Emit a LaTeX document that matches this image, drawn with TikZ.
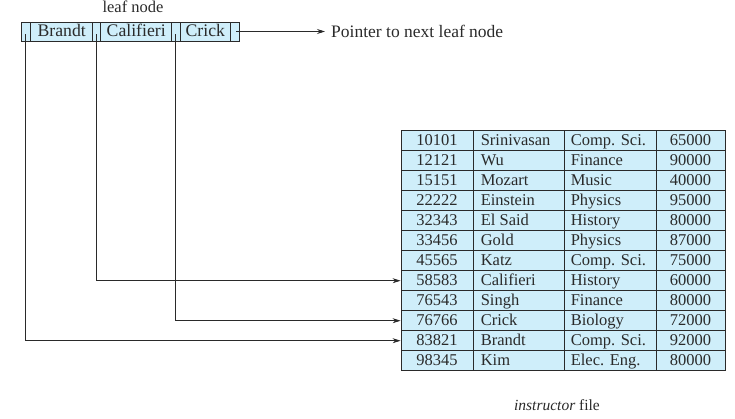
\documentclass[tikz,border=0pt]{standalone}
\usepackage{fontspec}
\setmainfont{Liberation Serif}
\usetikzlibrary{arrows.meta}
\definecolor{cellfill}{HTML}{CFEEFA}
\definecolor{ink}{HTML}{2A2A2A}
\begin{document}
\begin{tikzpicture}[x=1pt,y=-1pt,
  cellbox/.style={draw=ink,fill=cellfill,line width=0.8pt,inner sep=0pt,minimum height=#1},
  cellbox/.default=20,
  txt/.style={inner sep=0pt,font=\fontsize{16.5}{18}\selectfont,text=ink,text height=11,text depth=1},
  keytxt/.style={txt,font=\fontsize{17.7}{20}\selectfont,text height=12,text depth=2},
  lbl/.style={inner sep=0pt,text=ink},
  link/.style={draw=ink,line width=0.8pt,-{Stealth[length=8pt,width=5pt]}}]
\useasboundingbox (0,0) rectangle (735,418);
% leaf node
\node[lbl,font=\fontsize{16.5}{18}\selectfont] (title) at (133,7) {leaf node};
\node[cellbox=18.7,minimum width=9] (l0) at (26.2,31.7) {};
\node[cellbox=18.7,minimum width=62] (k1) at (61.7,31.7) {};
\node[cellbox=18.7,minimum width=8] (l1) at (96.7,31.7) {};
\node[cellbox=18.7,minimum width=71] (k2) at (136.2,31.7) {};
\node[cellbox=18.7,minimum width=8.3] (l2) at (175.85,31.7) {};
\node[cellbox=18.7,minimum width=50.7] (k3) at (205.35,31.7) {};
\node[cellbox=18.7,minimum width=8.6] (l3) at (235,31.7) {};
\node[keytxt] at (k1) {Brandt};
\node[keytxt] at (k2) {Califieri};
\node[keytxt] at (k3) {Crick};
\coordinate (p0) at (25.7,34);
\coordinate (p1) at (96.7,34);
\coordinate (p2) at (175,34);
\coordinate (p3) at (236,31.5);
\node[lbl,anchor=west,inner xsep=6pt,font=\fontsize{17.5}{19}\selectfont] (next) at (325,31.5) {Pointer to next leaf node};
% table
\foreach \i/\id/\nm/\dept/\sal in {
  1/10101/Srinivasan/Comp. Sci./65000,
  2/12121/Wu/Finance/90000,
  3/15151/Mozart/Music/40000,
  4/22222/Einstein/Physics/95000,
  5/32343/El Said/History/80000,
  6/33456/Gold/Physics/87000,
  7/45565/Katz/Comp. Sci./75000,
  8/58583/Califieri/History/60000,
  9/76543/Singh/Finance/80000,
  10/76766/Crick/Biology/72000,
  11/83821/Brandt/Comp. Sci./92000,
  12/98345/Kim/Elec. Eng./80000}{
  \pgfmathsetmacro{\yy}{120.7+20*\i}
  \node[cellbox,minimum width=72] (r\i c1) at (437,\yy) {};
  \node[cellbox,minimum width=91] (r\i c2) at (518.5,\yy) {};
  \node[cellbox,minimum width=92] (r\i c3) at (610,\yy) {};
  \node[cellbox,minimum width=69] (r\i c4) at (690.5,\yy) {};
  \node[txt] at (r\i c1) {\id};
  \node[txt,anchor=west] at ([xshift=8pt]r\i c2.west) {\nm};
  \node[txt,anchor=west] at ([xshift=7pt]r\i c3.west) {\dept};
  \node[txt] at (r\i c4) {\sal};
}
\node[lbl,font=\fontsize{15.5}{17}\selectfont] (cap) at (557,405) {\textit{instructor} file};
% pointers
\draw[link] (p0) |- (r11c1.west);
\draw[link] (p1) |- (r8c1.west);
\draw[link] (p2) |- (r10c1.west);
\draw[link] (p3) -- (next.west);
\end{tikzpicture}
\end{document}
